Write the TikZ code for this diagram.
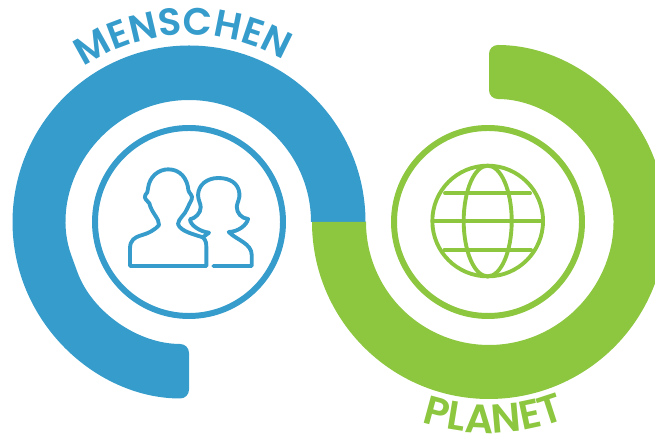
\documentclass[tikz,border=0pt]{standalone}
\usepackage{fontspec}
\usetikzlibrary{decorations.text}
\newfontfamily\ringfont{Poppins SemiBold}
\definecolor{ringblue}{HTML}{369CCB}
\definecolor{ringgreen}{HTML}{8DC63F}
\begin{document}
\begin{tikzpicture}[x=0.2mm, y=0.2mm]

        % Styles
        \tikzstyle{halo} = [line width=3.4pt, fill=white]
        \tikzstyle{icon} = [line width=2.2pt, line cap=round, line join=round]
        \tikzstyle{ringtext} = [decorate, decoration={text along path, text align=center}]

        \useasboundingbox (0,0) rectangle (655,434);
        \clip (0,0) rectangle (655,434);

        % Blue ring (Menschen)
        \fill[ringblue] (365.5,212) arc[start angle=0, end angle=200, radius=176.5]
            [rounded corners=5] arc[start angle=200, end angle=270, radius=176.5] -- (189,90)
            arc[start angle=270, end angle=200, radius=122] [sharp corners]
            arc[start angle=200, end angle=0, radius=122] -- cycle;
        \draw[halo, draw=ringblue] (189,212) circle (94);

        % Green ring (Planet)
        \fill[ringgreen] (312,212) arc[start angle=180, end angle=380, radius=177]
            [rounded corners=5] arc[start angle=380, end angle=450, radius=177] -- (489,335)
            arc[start angle=450, end angle=380, radius=123] [sharp corners]
            arc[start angle=380, end angle=180, radius=123] -- cycle;
        \draw[halo, draw=ringgreen] (488,212) circle (94);

        % Labels on the rings
        \path[ringtext, decoration={text={|\ringfont\fontsize{21.7}{24}\selectfont\color{ringblue}|MENSCHEN}}]
            (189,212) ++(182:187) arc[start angle=182, end angle=2, radius=187];
        \path[ringtext, decoration={text={|\ringfont\fontsize{23}{24}\selectfont\color{ringgreen}|PLANET}}]
            (489,212) ++(181.4:211) arc[start angle=181.4, end angle=361.4, radius=211];

        % Two people icon
        \begin{scope}[shift={(110,284)}, x=0.0667mm, y=-0.0667mm]
            \draw[icon, draw=ringblue] (60,348) -- (60,295) .. controls (60,270) and (75,262) .. (90,257)
                .. controls (115,250) and (135,240) .. (147,225) .. controls (148,205) and (125,190) .. (118,160)
                .. controls (112,152) and (100,145) .. (106,135) .. controls (112,130) and (113,125) .. (114,115)
                .. controls (118,80) and (145,58) .. (175,58) .. controls (210,58) and (232,85) .. (235,120)
                .. controls (236,130) and (250,135) .. (245,148) .. controls (240,160) and (235,165) .. (232,175)
                .. controls (225,195) and (205,205) .. (204,222) .. controls (210,245) and (260,255) .. (278,262)
                .. controls (288,270) and (289,280) .. (289,295) -- (289,348) -- cycle;
            \draw[icon, draw=ringblue] (310,348) -- (425,348) -- (425,315) .. controls (425,280) and (380,270) .. (356,246)
                .. controls (385,245) and (410,225) .. (414,207) .. controls (395,205) and (380,190) .. (380,170)
                .. controls (382,155) and (390,145) .. (388,130) .. controls (385,100) and (360,84) .. (325,84)
                .. controls (290,84) and (265,105) .. (264,135) .. controls (264,150) and (272,160) .. (272,172)
                .. controls (272,190) and (255,205) .. (240,208) .. controls (240,225) and (270,245) .. (297,248)
                -- (278,262);
        \end{scope}

        % Globe icon
        \begin{scope}[shift={(410,284)}, x=0.0667mm, y=-0.0667mm]
            \draw[icon, draw=ringgreen] (233,213) circle (166);
            \draw[icon, draw=ringgreen] (233,213) ellipse (72 and 166);
            \draw[icon, draw=ringgreen] (68,213) -- (398,213);
            \draw[icon, draw=ringgreen] (105,130) -- (360,130);
            \draw[icon, draw=ringgreen] (103,300) -- (363,300);
        \end{scope}

    \end{tikzpicture}
\end{document}
